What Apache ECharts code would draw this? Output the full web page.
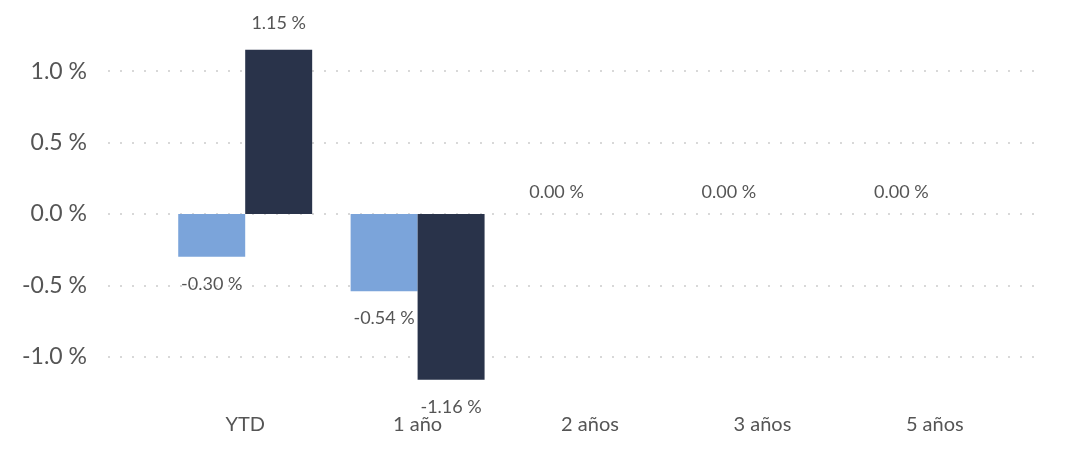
<!DOCTYPE html>
<html>
<head>
<meta charset="utf-8">
<script src="https://cdn.jsdelivr.net/npm/echarts@6/dist/echarts.min.js"></script>
<style>
html,body{margin:0;padding:0;background:#fff;}
#c{width:1065px;height:461px;}
</style>
</head>
<body>
<div id="c"></div>
<script>
const categories = ['YTD', '1 año', '2 años', '3 años', '5 años'];
const seriesA = [-0.30, -0.54, 0.00, 0.00, 0.00];
const seriesB = [1.15, -1.16, 0.00, 0.00, 0.00];
const colorA = '#7ba4da';
const colorB = '#29334a';
const yMin = -1.4, yMax = 1.4;
const FONT = 'Lato';
const TXT = '#555555';

// labels of the second series are hidden where they would collide with the first (both zero)
function toData(arr, other) {
  return arr.map((v, i) => ({
    value: v,
    label: {
      position: v >= 0 ? 'top' : 'bottom',
      distance: v === 0 ? 13 : 18,
      show: other ? !(v === 0 && other[i] === 0) : true
    }
  }));
}
const lbl = {
  show: true,
  fontFamily: FONT,
  fontSize: 18,
  color: TXT,
  formatter: p => p.value.toFixed(2) + ' %'
};

const chart = echarts.init(document.getElementById('c'), null, {renderer: 'canvas'});
chart.setOption({
  animation: false,
  grid: [
    {left: 108, right: 30, top: 14, bottom: 47},
    {left: 159, right: 44, top: 14, bottom: 47}
  ],
  xAxis: [
    {gridIndex: 0, type: 'category', data: categories, show: false},
    {gridIndex: 1, type: 'category', data: categories,
     axisLine: {show: false}, axisTick: {show: false},
     axisLabel: {fontFamily: FONT, fontSize: 20, color: TXT, margin: 1}}
  ],
  yAxis: [
    {gridIndex: 0, type: 'value', min: yMin, max: yMax, splitNumber: 5,
     axisLine: {show: false}, axisTick: {show: false},
     axisLabel: {fontFamily: FONT, fontSize: 23, color: TXT, margin: 21,
       showMinLabel: false, showMaxLabel: false,
       formatter: v => v.toFixed(1) + ' %'},
     splitLine: {show: true, showMinLine: false, showMaxLine: false,
       lineStyle: {color: '#cccccc', width: 1.5, type: [2, 10]}}},
    {gridIndex: 1, type: 'value', min: yMin, max: yMax, show: false, splitLine: {show: false}}
  ],
  series: [
    {type: 'bar', name: 'A', xAxisIndex: 1, yAxisIndex: 1, data: toData(seriesA),
     itemStyle: {color: colorA}, barGap: '0%', barCategoryGap: '22.3%', label: lbl},
    {type: 'bar', name: 'B', xAxisIndex: 1, yAxisIndex: 1, data: toData(seriesB, seriesA),
     itemStyle: {color: colorB}, barGap: '0%', barCategoryGap: '22.3%', label: lbl}
  ]
});
</script>
</body>
</html>
